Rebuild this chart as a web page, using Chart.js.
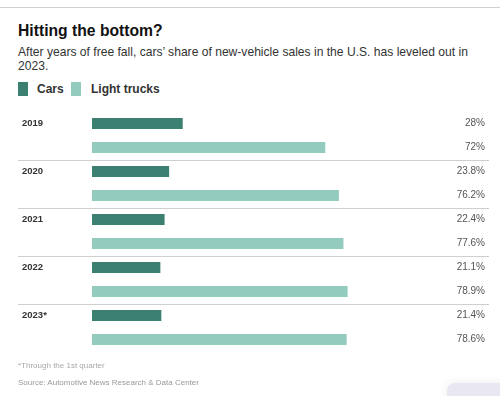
<!DOCTYPE html>
<html>
<head>
<meta charset="utf-8">
<script src="https://cdn.jsdelivr.net/npm/chart.js@4"></script>
<style>
  html, body { margin: 0; padding: 0; background: #fff; }
  body { width: 500px; height: 396px; position: relative; overflow: hidden;
         font-family: "Liberation Sans", Arial, Helvetica, sans-serif; }
  .topline { position: absolute; left: 0; top: 7px; width: 500px; height: 1px; background: #d0d0d0; }
  h1 { position: absolute; left: 18px; top: 22px; margin: 0; font-size: 15.7px; font-weight: bold; color: #111; }
  .sub { position: absolute; left: 18px; top: 45px; width: 470px; margin: 0; font-size: 12.1px; line-height: 14px; color: #333; }
  .legend { position: absolute; left: 18px; top: 82px; font-size: 12px; font-weight: bold; color: #333; }
  .legend span { position: absolute; top: 0; white-space: nowrap; }
  .sw { width: 10px; height: 14px; }
  .note { position: absolute; left: 18px; font-size: 8px; color: #a8a8a8; white-space: nowrap; }
  .corner { position: absolute; left: 447px; top: 383px; width: 70px; height: 30px; border-radius: 8px;
            background: #e9e7f1; box-shadow: 0 0 8px rgba(0,0,0,0.08); }
  #wrap { position: absolute; left: 0; top: 0; width: 500px; height: 396px; }
</style>
</head>
<body>
<div class="topline"></div>
<h1>Hitting the bottom?</h1>
<p class="sub">After years of free fall, cars’ share of new-vehicle sales in the U.S. has leveled out in<br>2023.</p>
<div class="legend">
  <span class="sw" style="left:0;background:#3b8070"></span>
  <span style="left:19px;top:0px;line-height:14px">Cars</span>
  <span class="sw" style="left:53px;background:#93cbbf"></span>
  <span style="left:73px;top:0px;line-height:14px">Light trucks</span>
</div>
<div id="wrap"><canvas id="chart-canvas"></canvas></div>
<div class="note" style="top:361px">*Through the 1st quarter</div>
<div class="note" style="top:378px;color:#999">Source: Automotive News Research &amp; Data Center</div>
<div class="corner"></div>
<script>
const years = ['2019', '2020', '2021', '2022', '2023*']
const cars = [28, 23.8, 22.4, 21.1, 21.4]
const lightTrucks = [72, 76.2, 77.6, 78.9, 78.6]

const FONT = '"Liberation Sans", Arial, Helvetica, sans-serif'

// separators between year groups, year labels and value labels
const rowLabels = {
    id: 'rowLabels',
    beforeDatasetsDraw(chart) {
        const ctx = chart.ctx
        const y = chart.scales.y
        ctx.save()
        ctx.strokeStyle = '#cfcfcf'
        ctx.lineWidth = 1
        for (let i = 1; i < years.length; i++) {
            const py = Math.round((y.getPixelForValue(i - 1) + y.getPixelForValue(i)) / 2) + 0.5
            ctx.beginPath()
            ctx.moveTo(18, py)
            ctx.lineTo(489, py)
            ctx.stroke()
        }
        ctx.restore()
    },
    afterDatasetsDraw(chart) {
        const ctx = chart.ctx
        ctx.save()
        ctx.textBaseline = 'middle'
        const carBars = chart.getDatasetMeta(0).data
        ctx.font = 'bold 9.5px ' + FONT
        ctx.fillStyle = '#333'
        ctx.textAlign = 'left'
        carBars.forEach((bar, i) => ctx.fillText(years[i], 22, bar.y))
        ctx.font = '10px ' + FONT
        ctx.fillStyle = '#555'
        ctx.textAlign = 'right'
        chart.data.datasets.forEach((ds, d) => {
            chart.getDatasetMeta(d).data.forEach((bar, i) => {
                ctx.fillText(ds.data[i] + '%', 485, bar.y)
            })
        })
        ctx.restore()
    }
}

new Chart(document.getElementById('chart-canvas'), {
    type: 'bar',
    data: {
        labels: years,
        datasets: [{
            label: 'Cars',
            data: cars,
            backgroundColor: '#3b8070',
            categoryPercentage: 1,
            barPercentage: 0.46
        },
        {
            label: 'Light trucks',
            data: lightTrucks,
            backgroundColor: '#93cbbf',
            categoryPercentage: 1,
            barPercentage: 0.46
        }]
    },
    options: {
        indexAxis: 'y',
        responsive: true,
        maintainAspectRatio: false,
        animation: false,
        layout: { padding: { left: 92, right: 84, top: 111.5, bottom: 44.5 } },
        scales: {
            x: { display: false, min: 0, max: 100 },
            y: { display: false }
        },
        plugins: {
            legend: { display: false },
            tooltip: { enabled: false }
        }
    },
    plugins: [rowLabels]
})
</script>
</body>
</html>
